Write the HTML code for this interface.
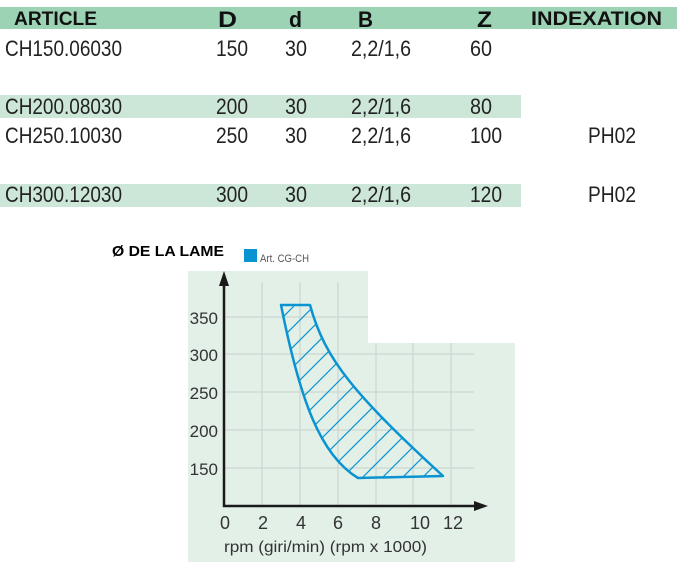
<!DOCTYPE html>
<html><head><meta charset="utf-8"><style>
html,body{margin:0;padding:0;background:#fff;width:677px;height:575px;overflow:hidden}
svg{display:block}
</style></head><body>
<svg width="677" height="575" xmlns="http://www.w3.org/2000/svg" font-family="Liberation Sans, sans-serif">
<rect x="0" y="7" width="677" height="22" fill="#9dd3b5"/>
<rect x="0" y="95" width="521" height="23" fill="#cce7d7"/>
<rect x="0" y="184" width="521" height="23" fill="#cce7d7"/>
<g font-weight="bold" font-size="19" fill="#111">
<text x="14" y="25" textLength="83" lengthAdjust="spacingAndGlyphs">ARTICLE</text>
<text x="218" y="27" font-size="22" textLength="19" lengthAdjust="spacingAndGlyphs">D</text>
<text x="289" y="27" font-size="22" textLength="13" lengthAdjust="spacingAndGlyphs">d</text>
<text x="358" y="27" font-size="22" textLength="15" lengthAdjust="spacingAndGlyphs">B</text>
<text x="477" y="27" font-size="22" textLength="15" lengthAdjust="spacingAndGlyphs">Z</text>
<text x="531" y="25" textLength="131" lengthAdjust="spacingAndGlyphs">INDEXATION</text>
</g>
<g font-size="22" fill="#222">
<text x="5" y="56" textLength="117" lengthAdjust="spacingAndGlyphs">CH150.06030</text>
<text x="216" y="56" textLength="32" lengthAdjust="spacingAndGlyphs">150</text>
<text x="285" y="56" textLength="22" lengthAdjust="spacingAndGlyphs">30</text>
<text x="351" y="56" textLength="60" lengthAdjust="spacingAndGlyphs">2,2/1,6</text>
<text x="470" y="56" textLength="22" lengthAdjust="spacingAndGlyphs">60</text>
<text x="5" y="114" textLength="117" lengthAdjust="spacingAndGlyphs">CH200.08030</text>
<text x="216" y="114" textLength="32" lengthAdjust="spacingAndGlyphs">200</text>
<text x="285" y="114" textLength="22" lengthAdjust="spacingAndGlyphs">30</text>
<text x="351" y="114" textLength="60" lengthAdjust="spacingAndGlyphs">2,2/1,6</text>
<text x="470" y="114" textLength="22" lengthAdjust="spacingAndGlyphs">80</text>
<text x="5" y="143" textLength="117" lengthAdjust="spacingAndGlyphs">CH250.10030</text>
<text x="216" y="143" textLength="32" lengthAdjust="spacingAndGlyphs">250</text>
<text x="285" y="143" textLength="22" lengthAdjust="spacingAndGlyphs">30</text>
<text x="351" y="143" textLength="60" lengthAdjust="spacingAndGlyphs">2,2/1,6</text>
<text x="470" y="143" textLength="32" lengthAdjust="spacingAndGlyphs">100</text>
<text x="588" y="143" textLength="48" lengthAdjust="spacingAndGlyphs">PH02</text>
<text x="5" y="202" textLength="117" lengthAdjust="spacingAndGlyphs">CH300.12030</text>
<text x="216" y="202" textLength="32" lengthAdjust="spacingAndGlyphs">300</text>
<text x="285" y="202" textLength="22" lengthAdjust="spacingAndGlyphs">30</text>
<text x="351" y="202" textLength="60" lengthAdjust="spacingAndGlyphs">2,2/1,6</text>
<text x="470" y="202" textLength="32" lengthAdjust="spacingAndGlyphs">120</text>
<text x="588" y="202" textLength="48" lengthAdjust="spacingAndGlyphs">PH02</text>
</g>
<text x="112" y="256" font-weight="bold" font-size="15" fill="#000" textLength="112" lengthAdjust="spacingAndGlyphs">Ø DE LA LAME</text>
<rect x="244" y="249" width="13" height="13" fill="#0a93d1"/>
<text x="260" y="262" font-size="11" fill="#555" textLength="49" lengthAdjust="spacingAndGlyphs">Art. CG-CH</text>
<path d="M188 271H368V343H515V562H188Z" fill="#e2f0e8"/>
<g stroke="#cfd6d2" stroke-width="1.2" fill="none">
<path d="M262 282V506M300 282V506M338 282V506M376 343V506M413 343V506M451 343V506"/>
<path d="M224 317H368M224 354H474M224 392H474M224 430H474M224 468H474"/>
</g>
<defs><clipPath id="c"><path d="M281 305L310 305C325 360 355 395 443 476L358 478C320 455 300 400 281 305Z"/></clipPath></defs>
<g clip-path="url(#c)" stroke="#0a93d1" stroke-width="1.2">
<path d="M240 340L330 250M240 360L340 260M240 380L350 270M240 400L360 280M240 420L380 280M240 440L400 280M240 460L420 280M240 480L440 280M250 490L460 280M270 490L480 280M290 490L500 280M310 490L520 280M330 490L540 280M350 490L560 280M370 490L580 280M390 490L600 280M410 490L620 280M430 490L640 280M450 490L660 280"/>
</g>
<path d="M281 305L310 305C325 360 355 395 443 476L358 478C320 455 300 400 281 305Z" fill="none" stroke="#0a93d1" stroke-width="2.5" stroke-linejoin="round"/>
<g stroke="#1a1a1a" stroke-width="2.5" fill="none"><path d="M224 280V506H478"/></g>
<path d="M224 271L219 286L229 286Z M488 506L474 501L474 511Z" fill="#1a1a1a"/>
<g font-size="17" fill="#333" text-anchor="end">
<text x="218" y="324">350</text><text x="218" y="361">300</text><text x="218" y="399">250</text><text x="218" y="437">200</text><text x="218" y="475">150</text>
</g>
<g font-size="18" fill="#333" text-anchor="middle">
<text x="225" y="529">0</text><text x="263" y="529">2</text><text x="301" y="529">4</text><text x="338" y="529">6</text><text x="376" y="529">8</text><text x="420" y="529">10</text><text x="453" y="529">12</text>
</g>
<text x="224" y="552" font-size="16" fill="#333" textLength="203" lengthAdjust="spacingAndGlyphs">rpm (giri/min) (rpm x 1000)</text>
</svg>
</body></html>
